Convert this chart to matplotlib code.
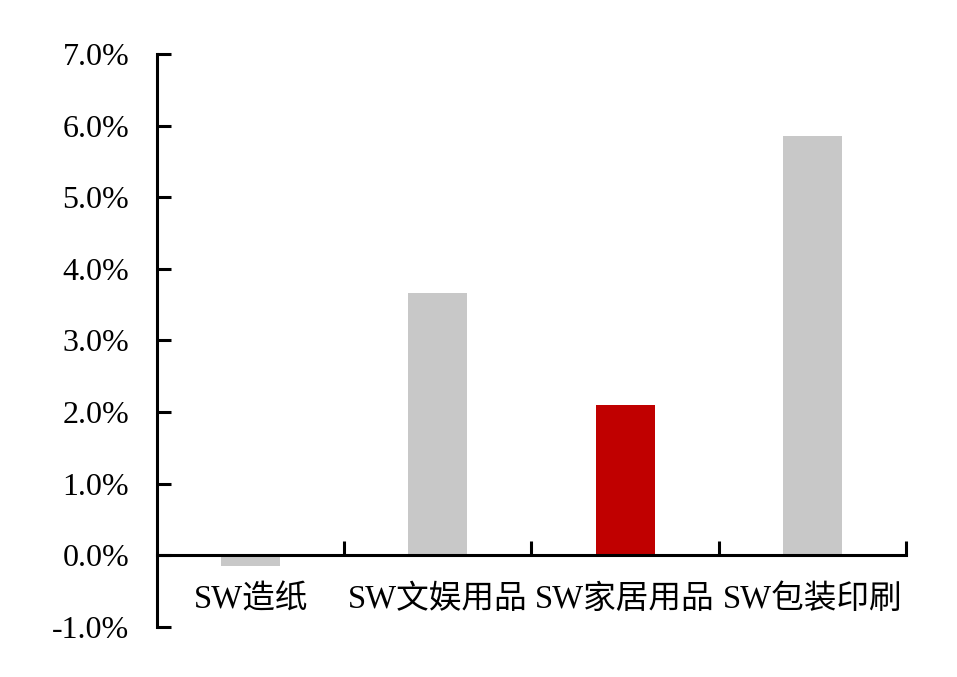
import matplotlib
matplotlib.use('Agg')
import matplotlib.pyplot as plt
from matplotlib.ticker import FuncFormatter, FixedLocator

plt.rcParams['font.family'] = ['Liberation Serif', 'Noto Sans CJK SC', 'DejaVu Sans']

categories = ['SW造纸', 'SW文娱用品', 'SW家居用品', 'SW包装印刷']
values = [-0.15, 3.67, 2.10, 5.85]  # %
colors = ['#C8C8C8', '#C8C8C8', '#C00000', '#C8C8C8']

fig = plt.figure(figsize=(9.57, 6.77), dpi=100)
ax = fig.add_axes([0.164, 0.0739, 0.7827, 0.8463])

x = list(range(len(categories)))
ax.bar(x, values, width=0.315, color=colors, zorder=2)

ax.set_xlim(-0.5, 3.5)
ax.set_ylim(-1, 7)
ax.set_yticks(range(-1, 8))
ax.yaxis.set_major_formatter(FuncFormatter(lambda v, p: f'{v:.1f}%'))

ax.spines['top'].set_visible(False)
ax.spines['right'].set_visible(False)
ax.spines['bottom'].set_position(('data', 0))
for s in ['left', 'bottom']:
    ax.spines[s].set_linewidth(2.2)
    ax.spines[s].set_color('black')

# boundary ticks (major) and label positions (minor)
ax.xaxis.set_major_locator(FixedLocator([0.5, 1.5, 2.5, 3.5]))
ax.xaxis.set_major_formatter(FuncFormatter(lambda v, p: ''))
ax.xaxis.set_minor_locator(FixedLocator(x))
ax.set_xticklabels(categories, minor=True)
ax.tick_params(axis='x', which='major', direction='in', length=10, width=2.2)
ax.tick_params(axis='x', which='minor', length=0, pad=21, labelsize=23.5)
ax.tick_params(axis='y', direction='in', length=10, width=2.2, pad=20, labelsize=23)

fig.savefig('out.png', dpi=100)
